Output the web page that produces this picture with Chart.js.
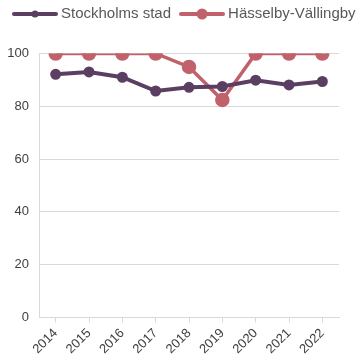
<!DOCTYPE html>
<html>
<head>
<meta charset="utf-8">
<script src="https://cdn.jsdelivr.net/npm/chart.js@4"></script>
<style>
  html, body { margin: 0; padding: 0; background: #fff; }
  #wrap { width: 360px; height: 360px; }
</style>
</head>
<body>
<div id="wrap"><canvas id="chart"></canvas></div>
<script>
const years = ['2014', '2015', '2016', '2017', '2018', '2019', '2020', '2021', '2022'];
const stockholm = [92.1, 93.0, 91.0, 85.8, 87.2, 87.5, 89.9, 88.1, 89.4];
const hasselby = [100, 100, 100, 100, 94.9, 82.4, 100, 100, 100];
const yTicks = [0, 20, 40, 60, 80, 100];

const purple = '#5b3f63';
const red = '#c1616b';

// small line-with-dot swatch for the legend
function swatch(color, lw, r) {
  const c = document.createElement('canvas');
  c.width = 46; c.height = 14;
  const g = c.getContext('2d');
  g.strokeStyle = color; g.lineWidth = lw; g.lineCap = 'round';
  g.beginPath(); g.moveTo(2, 7); g.lineTo(44, 7); g.stroke();
  g.fillStyle = color;
  g.beginPath(); g.arc(23, 7, r, 0, Math.PI * 2); g.fill();
  return c;
}
const swatches = [swatch(purple, 4, 3.5), swatch(red, 4, 5.5)];

// keep the legend on one row, leave room under it, nudge it up a bit
const legendTweak = {
  id: 'legendTweak',
  beforeInit(chart) {
    const legend = chart.legend;
    const fit = legend.fit;
    legend.fit = function () {
      this.maxWidth = 420;
      fit.call(this);
      this.height += 16;
    };
    const draw = legend.draw;
    legend.draw = function () {
      const ctx = this.ctx;
      const right = this.right;
      this.right = 420;
      ctx.save();
      ctx.translate(0, -6);
      draw.call(this);
      ctx.restore();
      this.right = right;
    };
  }
};

new Chart(document.getElementById('chart').getContext('2d'), {
  type: 'line',
  data: {
    labels: years,
    datasets: [{
      label: 'Stockholms stad',
      data: stockholm,
      borderColor: purple,
      backgroundColor: purple,
      borderWidth: 4,
      pointRadius: 3.5,
      pointHoverRadius: 3.5,
      tension: 0
    }, {
      label: 'Hässelby-Vällingby',
      data: hasselby,
      borderColor: red,
      backgroundColor: red,
      borderWidth: 3.5,
      pointRadius: 5.5,
      pointHoverRadius: 5.5,
      tension: 0
    }]
  },
  plugins: [legendTweak],
  options: {
    responsive: true,
    maintainAspectRatio: false,
    animation: false,
    layout: { padding: { left: 4, right: 21, top: 0, bottom: 0 } },
    scales: {
      x: {
        offset: true,
        grid: {
          display: true,
          drawOnChartArea: false,
          color: '#d9d9d9',
          tickLength: 5,
          offset: false
        },
        border: { color: '#d9d9d9' },
        ticks: {
          color: '#404040',
          maxRotation: 45,
          minRotation: 45,
          font: { family: 'Liberation Sans, Arial', size: 13 }
        }
      },
      y: {
        min: 0,
        max: 100,
        afterBuildTicks: axis => { axis.ticks = yTicks.map(v => ({ value: v })); },
        afterFit: axis => { axis.width = 35; },
        grid: { color: '#d9d9d9', drawTicks: false },
        border: { color: '#d9d9d9' },
        ticks: {
          color: '#404040',
          padding: 10,
          font: { family: 'Liberation Sans, Arial', size: 13 }
        }
      }
    },
    plugins: {
      legend: {
        position: 'top',
        align: 'start',
        labels: {
          usePointStyle: true,
          pointStyleWidth: 37,
          color: '#595959',
          padding: 12.5,
          font: { family: 'Liberation Sans, Arial', size: 15 },
          generateLabels: chart => chart.data.datasets.map((ds, i) => ({
            text: ds.label,
            fillStyle: ds.borderColor,
            strokeStyle: ds.borderColor,
            pointStyle: swatches[i],
            fontColor: '#595959',
            datasetIndex: i,
            hidden: false
          }))
        }
      },
      tooltip: { enabled: false }
    }
  }
});
</script>
</body>
</html>
